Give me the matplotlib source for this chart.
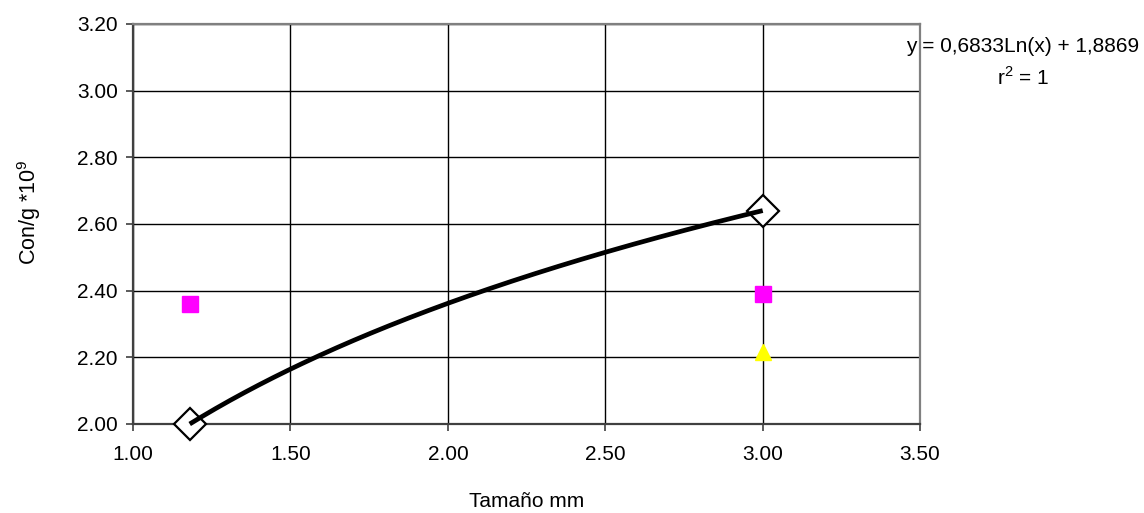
import numpy as np
import matplotlib.pyplot as plt

plt.rcParams['font.family'] = ['Liberation Sans', 'DejaVu Sans']
plt.rcParams['mathtext.fontset'] = 'custom'
plt.rcParams['mathtext.rm'] = 'Liberation Sans'

# data
size_fit = [1.18, 3.00]        # diamonds (series used for the trend line)
conc_fit = [2.00, 2.64]
size_sq = [1.18, 3.00]         # magenta squares
conc_sq = [2.36, 2.39]
size_tri = [3.00]              # yellow triangle
conc_tri = [2.215]

xticks = [1.00, 1.50, 2.00, 2.50, 3.00, 3.50]
yticks = [2.00, 2.20, 2.40, 2.60, 2.80, 3.00, 3.20]

fig = plt.figure(figsize=(11.44, 5.13), dpi=100)
ax = fig.add_axes([0.1163, 0.1735, 0.688, 0.78])

ax.plot(size_fit, conc_fit, linestyle='none', marker='D', ms=16,
        mfc='white', mec='black', mew=1.6, zorder=4, clip_on=False)
ax.plot(size_sq, conc_sq, linestyle='none', marker='s', ms=11.5,
        color='#ff00ff', zorder=4, clip_on=False)
ax.plot(size_tri, conc_tri, linestyle='none', marker='^', ms=12,
        color='#ffff00', zorder=4, clip_on=False)

# logarithmic trend line fitted to the diamond series
b, a = np.polyfit(np.log(size_fit), conc_fit, 1)
xs = np.linspace(size_fit[0], size_fit[-1], 200)
ax.plot(xs, b * np.log(xs) + a, color='black', lw=3.4,
        solid_capstyle='butt', zorder=5, clip_on=False)

ax.set_xlim(1.0, 3.5)
ax.set_ylim(2.0, 3.2)
ax.set_xticks(xticks)
ax.set_yticks(yticks)
ax.set_xticklabels([f'{v:.2f}' for v in xticks])
ax.set_yticklabels([f'{v:.2f}' for v in yticks])
ax.grid(True, color='black', lw=1.0)
ax.set_axisbelow(True)
ax.tick_params(labelsize=15, length=5, width=1.2, color='#404040')
ax.tick_params(axis='x', pad=10)
ax.tick_params(axis='y', pad=6)

for side in ['left', 'bottom']:
    ax.spines[side].set_color('#404040')
    ax.spines[side].set_linewidth(1.6)
for side in ['top', 'right']:
    ax.spines[side].set_color('#808080')
    ax.spines[side].set_linewidth(1.6)

ax.set_xlabel('Tamaño mm', fontsize=15, labelpad=20)
ax.set_ylabel(r'Con/g *10$^{\mathrm{9}}$', fontsize=15.5)
ax.yaxis.set_label_coords(-0.114, 0.53)

# trend line equation, placed over the right edge of the plot frame
fig.text(0.894, 0.8986, 'y = 0,6833Ln(x) + 1,8869',
         ha='center', va='baseline', fontsize=15)
fig.text(0.894, 0.834, r'r$^{\mathrm{2}}$ = 1',
         ha='center', va='baseline', fontsize=15)

fig.savefig('out.png', dpi=100)
